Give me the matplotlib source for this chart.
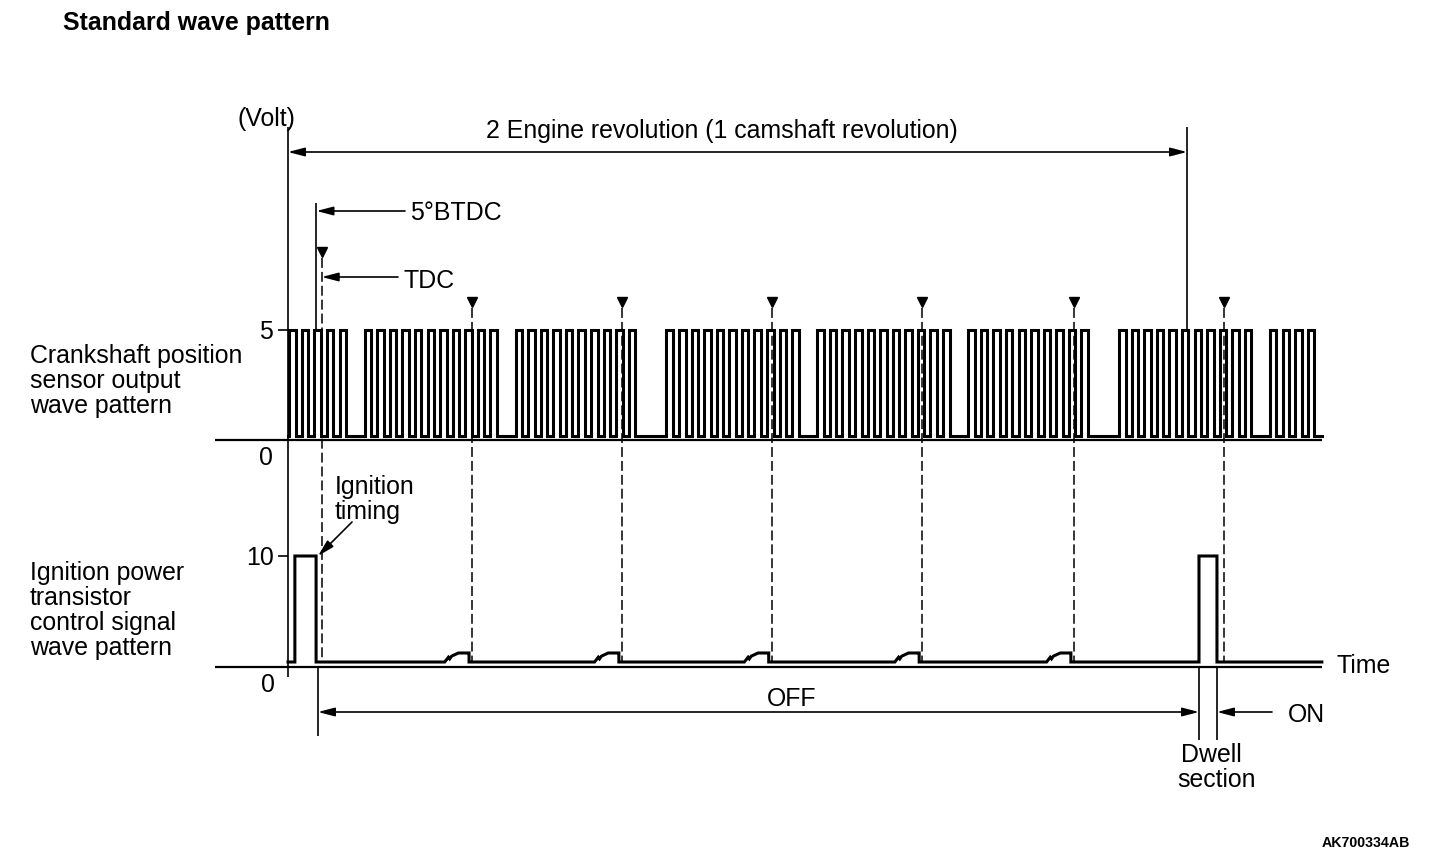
import matplotlib.pyplot as plt
from matplotlib.patches import FancyArrowPatch

plt.rcParams['font.family'] = ['Liberation Sans', 'DejaVu Sans']

# x = crank angle in degrees, 0 at the volt axis, 720 = 2 engine revolutions
# crank sensor: one tooth per slot, runs of tooth numbers (gaps = missing teeth)
tooth_runs = [(0, 4), (6, 16), (18, 27), (30, 40), (42, 52), (54, 63), (66, 76), (78, 81)]
tooth_pitch = 10.07
tooth_rise, tooth_fall = 1.0, 6.2
crank_volt = 5
trace_end = 828

tdc_marks = [27, 147.5, 267.5, 387.5, 508, 629.5, 749.5]
btdc5 = 22.8
ign_timing = 24

# ignition power transistor control signal
ign_pulses = [(5.5, 22.5), (729.6, 744)]
ign_volt = 10
bump_tdc = [147.5, 267.5, 387.5, 508, 629.5]
bump_dx = [-22, -19, -18, -16.5, -11, -4, -2.5, -2.5]
bump_v = [0, 0.45, 0.3, 0.55, 0.85, 0.85, 0.85, 0]

W, H = 1440, 862
S = 899 / 720  # px per degree


def deg(xpx):
    return (xpx - 288) / S


fig = plt.figure(figsize=(14.4, 8.62), dpi=100)
ax = fig.add_axes([0, 0, 1, 1], label='layout')
ax.set_xlim(deg(0), deg(W))
ax.set_ylim(H, 0)
ax.axis('off')
axc = fig.add_axes([0, 0, 1, 1], label='crank', sharex=ax)
axc.set_ylim((437 - H) / 21.2, 437 / 21.2)
axc.axis('off')
axi = fig.add_axes([0, 0, 1, 1], label='ign', sharex=ax)
axi.set_ylim((663 - H) / 10.6, 663 / 10.6)
axi.axis('off')

# crank position sensor trace
cx, cy = [0], [0]
for a, b in tooth_runs:
    for k in range(a, b + 1):
        r, f = k * tooth_pitch + tooth_rise, k * tooth_pitch + tooth_fall
        cx += [r, r, f, f]
        cy += [0, crank_volt, crank_volt, 0]
cx.append(trace_end)
cy.append(0)
axc.plot(cx, cy, color='black', lw=2.2, solid_joinstyle='miter')

# ignition signal trace
pieces = [(p[0], [p[0], p[0], p[1], p[1]], [0, ign_volt, ign_volt, 0]) for p in ign_pulses]
pieces += [(t + bump_dx[0], [t + d for d in bump_dx], bump_v) for t in bump_tdc]
ix, iy = [0], [0]
for _, px_, py_ in sorted(pieces, key=lambda p: p[0]):
    ix += px_
    iy += py_
ix.append(trace_end)
iy.append(0)
axi.plot(ix, iy, color='black', lw=2.2, solid_joinstyle='miter')

# axes lines and ticks
ax.hlines([441, 668], deg(215), trace_end, color='black', lw=1.6)
ax.vlines(0, 128, 678, color='black', lw=1.2)
ax.vlines(720, 128, 330, color='black', lw=1.2)
axc.hlines(crank_volt, deg(278), 0, color='black', lw=1.2)
axi.hlines(ign_volt, deg(278), 0, color='black', lw=1.2)

# TDC marks
mark_y = [253] + [303] * (len(tdc_marks) - 1)
ax.plot(tdc_marks, mark_y, 'v', color='black', ms=7.5, mec='black')
ax.vlines(tdc_marks, [y + 6 for y in mark_y], 663, color='black', lw=1.1,
          linestyles=(0, (6.5, 2.6)))
ax.vlines(btdc5, 204, 332, color='black', lw=1.2)
ax.vlines(ign_timing, 668, 737, color='black', lw=1.2)
ax.vlines([ign_pulses[1][0], ign_pulses[1][1]], 668, 741, color='black', lw=1.2)


def arrow(x0, y0, x1, y1, style='-|>'):
    ax.add_patch(FancyArrowPatch((x0, y0), (x1, y1),
                                 arrowstyle=f'{style},head_length=0.5,head_width=0.13',
                                 mutation_scale=20, lw=1.2, color='black',
                                 shrinkA=0, shrinkB=0))


arrow(0, 153, 720, 153, '<|-|>')
arrow(deg(405), 212, btdc5, 212)
arrow(deg(398), 278, tdc_marks[0], 278)
arrow(deg(352), 523, deg(318), 557)
arrow(ign_timing, 713, ign_pulses[1][0], 713, '<|-|>')
arrow(deg(1272), 713, ign_pulses[1][1], 713)

fs = 17.9
tx = dict(fontsize=fs, color='black', va='center')
ax.text(deg(63), 23, 'Standard wave pattern', fontweight='bold', **tx)
ax.text(deg(266), 119, '(Volt)', ha='center', **tx)
ax.text(deg(722), 131, '2 Engine revolution (1 camshaft revolution)', ha='center', **tx)
ax.text(deg(410), 213, '5°BTDC', ha='left', **tx)
ax.text(deg(403), 281, 'TDC', ha='left', **tx)
ax.text(deg(273), 332, '5', ha='right', **tx)
ax.text(deg(273), 458, '0', ha='right', **tx)
ax.text(deg(274), 558, '10', ha='right', **tx)
ax.text(deg(275), 685, '0', ha='right', **tx)
ax.text(deg(335), 487, 'Ignition', ha='left', **tx)
ax.text(deg(335), 512, 'timing', ha='left', **tx)
ax.text(deg(1337), 666, 'Time', ha='left', **tx)
ax.text(deg(792), 699, 'OFF', ha='center', **tx)
ax.text(deg(1288), 715, 'ON', ha='left', **tx)
ax.text(deg(1211), 755, 'Dwell', ha='center', **tx)
ax.text(deg(1217), 780, 'section', ha='center', **tx)
for i, line in enumerate(['Crankshaft position', 'sensor output', 'wave pattern']):
    ax.text(deg(30), 356 + 25 * i, line, ha='left', **tx)
for i, line in enumerate(['Ignition power', 'transistor', 'control signal', 'wave pattern']):
    ax.text(deg(30), 573 + 25 * i, line, ha='left', **tx)
ax.text(deg(1410), 843, 'AK700334AB', ha='right', fontsize=10.2, fontweight='bold',
        va='center', color='black')

fig.savefig('out.png', dpi=100, facecolor='white')
